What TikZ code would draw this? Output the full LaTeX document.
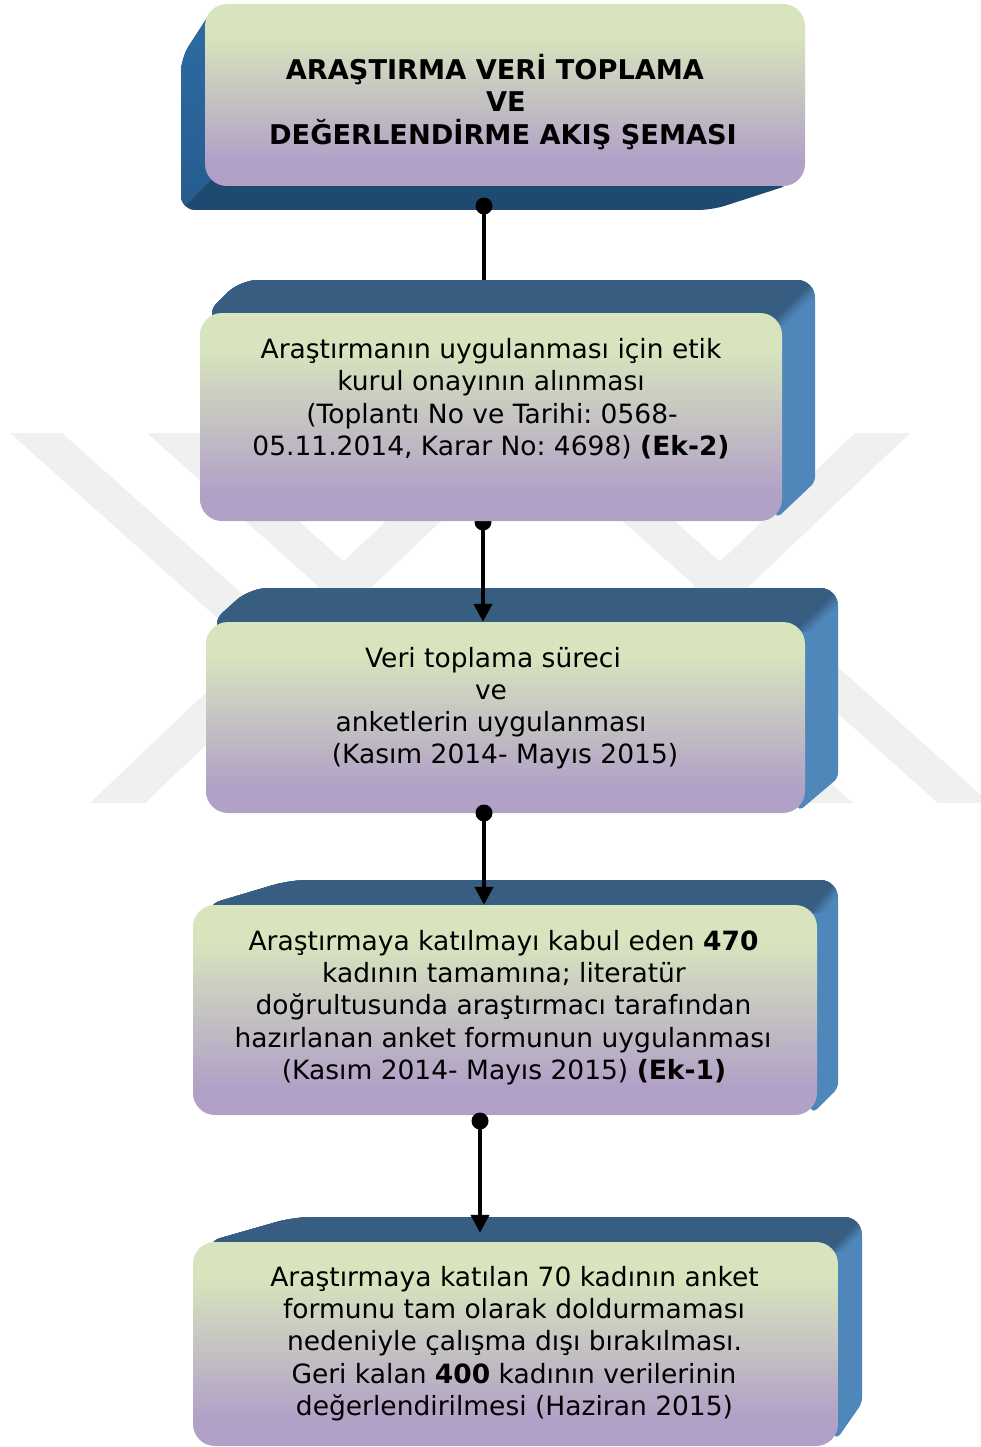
\documentclass[tikz,border=0pt]{standalone}
\usepackage{fontspec}
\setmainfont{DejaVu Sans}
\usetikzlibrary{arrows.meta}
\definecolor{grn}{HTML}{D7E4BD}
\definecolor{gry}{HTML}{C5C4C2}
\definecolor{lav}{HTML}{B2A1C7}
\definecolor{topb}{HTML}{375D81}
\definecolor{sideb}{HTML}{4F87BB}
\definecolor{leftbA}{HTML}{2E6DA6}
\definecolor{leftbB}{HTML}{255A8B}
\definecolor{botb}{HTML}{1F4A70}
\definecolor{wmc}{HTML}{F0F0F0}
\pgfdeclareverticalshading{frontsh}{100bp}{color(0bp)=(lav); color(32bp)=(lav); color(50bp)=(gry); color(66bp)=(grn); color(100bp)=(grn)}
\pgfdeclarelayer{wmark}
\pgfdeclarelayer{low}
\pgfdeclarelayer{mid}
\pgfdeclarelayer{high}
\pgfsetlayers{wmark,low,mid,main,high}
\tikzset{
  face/.style={shade, shading=frontsh, rounded corners=22pt, inner sep=0pt},
  txt/.style={anchor=base, inner sep=0pt, font=\fontsize{26.5}{32}\selectfont},
  ttl/.style={anchor=base, inner sep=0pt, font=\fontsize{27.2}{32}\selectfont\bfseries},
  conn/.style={line width=4pt},
  arr/.style={line width=4pt, -{Triangle[length=18pt,width=18pt]}},
  dotst/.style={circle, fill=black, inner sep=0pt, minimum size=17pt},
  sideface/.style={fill=sideb},
  wmband/.style={fill=wmc}
}
\frenchspacing
\begin{document}
\begin{tikzpicture}[x=1pt,y=-1pt]
\useasboundingbox (0,0) rectangle (981,1447);

% ---------- watermark ----------
\begin{pgfonlayer}{wmark}
\fill[white] (0,0) rectangle (981,1447);
\begin{scope}
\clip (0,433) rectangle (981,803);
\fill[wmband] (10,433) -- (62,433) -- (476.4,803) -- (424.4,803) -- cycle;
\fill[wmband] (90,803) -- (145,803) -- (533.5,433) -- (478.5,433) -- cycle;
\fill[wmband] (524,433) -- (576,433) -- (990,803) -- (938,803) -- cycle;
\fill[wmband] (855,433) -- (910,433) -- (521.5,803) -- (466.5,803) -- cycle;
\fill[wmband] (147,433) -- (200,433) -- (372,586.6) -- (346,611) -- cycle;
\fill[wmband] (853,803) -- (800,803) -- (628,649.4) -- (654,625) -- cycle;
\end{scope}
\end{pgfonlayer}

% ---------- box 1 ----------
\begin{pgfonlayer}{low}
\begin{scope}
\clip[rounded corners=14pt] (216,4) -- (181,58) -- (181,210) -- (712,210) [rounded corners=4pt] -- (786,186) -- (760,150) [rounded corners=14pt] -- (240,40) -- cycle;
\fill[botb] (150,0) rectangle (830,230);
\shade[top color=leftbA, bottom color=leftbB] (235,-10) -- (150,40) -- (150,241) -- (215,176) -- cycle;
\end{scope}
\node[face, minimum width=600pt, minimum height=182pt] (b1) at (505,95) {};
\node[ttl] (t11) at (495,80) {ARAŞTIRMA VERİ TOPLAMA};
\node[ttl] (t12) at (506,112) {VE};
\node[ttl] (t13) at (503,145) {DEĞERLENDİRME AKIŞ ŞEMASI};
\end{pgfonlayer}

% ---------- box 3 ----------
\begin{pgfonlayer}{low}
\begin{scope}
\clip[rounded corners=18pt] (209,625) -- (250,588) -- (838,588) [rounded corners=5pt] -- (838,778) -- (799,811) -- (790,790) [rounded corners=18pt] -- (230,640) -- cycle;
\fill[sideface] (190,570) rectangle (860,830);
\foreach \d/\p in {16/12, 12/30, 8/52, 4/76, 0/100}
  \fill[topb!\p!sideb] (195,645) -- (240,575) -- ({855+\d},575) -- ({795+\d},632) -- cycle;
\end{scope}
\node[face, minimum width=599pt, minimum height=191pt] (b3) at (505.5,717.5) {};
\node[txt] (t31) at (493,667) {Veri toplama süreci};
\node[txt] (t32) at (491,699) {ve};
\node[txt] (t33) at (491,731.5) {anketlerin uygulanması};
\node[txt] (t34) at (505,763.5) {(Kasım 2014- Mayıs 2015)};
\end{pgfonlayer}

% ---------- box 2 ----------
\begin{scope}
\clip[rounded corners=18pt] (204,316) -- (240,280) -- (815,280) [rounded corners=5pt] -- (815,482) -- (777,518) -- (770,500) [rounded corners=18pt] -- (230,330) -- cycle;
\fill[sideface] (190,260) rectangle (830,530);
\foreach \d/\p in {16/12, 12/30, 8/52, 4/76, 0/100}
  \fill[topb!\p!sideb] (190,340) -- (230,265) -- ({830+\d},265) -- ({770+\d},325) -- cycle;
\end{scope}
\node[face, minimum width=582pt, minimum height=208pt] (b2) at (491,417) {};
\node[txt] (t21) at (491,358) {Araştırmanın uygulanması için etik};
\node[txt] (t22) at (491,390.5) {kurul onayının alınması};
\node[txt] (t23) at (492,423) {(Toplantı No ve Tarihi: 0568-};
\node[txt] (t24) at (491,455) {05.11.2014, Karar No: 4698) \textbf{(Ek-2)}};

% ---------- box 4 ----------
\begin{scope}
\clip[rounded corners=18pt] (203,906) -- (290,880) -- (838,880) [rounded corners=5pt] -- (838,1088) -- (813,1113) -- (800,1090) [rounded corners=18pt] -- (230,920) -- cycle;
\fill[sideface] (180,860) rectangle (860,1130);
\foreach \d/\p in {14/12, 10/30, 7/52, 3.5/76, 0/100}
  \fill[topb!\p!sideb] (185,915) -- (280,865) -- ({850+\d},865) -- ({810+\d},913) -- cycle;
\end{scope}
\node[face, minimum width=624pt, minimum height=210pt] (b4) at (505,1010) {};
\node[txt] (t41) at (503.5,950) {Araştırmaya katılmayı kabul eden \textbf{470}};
\node[txt] (t42) at (504,982) {kadının tamamına; literatür};
\node[txt] (t43) at (503.5,1014.5) {doğrultusunda araştırmacı tarafından};
\node[txt] (t44) at (503,1047) {hazırlanan anket formunun uygulanması};
\node[txt] (t45) at (504,1079) {(Kasım 2014- Mayıs 2015) \textbf{(Ek-1)}};

% ---------- box 5 ----------
\begin{scope}
\clip[rounded corners=18pt] (203,1243) -- (294,1217) -- (862,1217) [rounded corners=5pt] -- (862,1403) -- (837,1439) -- (820,1420) [rounded corners=18pt] -- (230,1260) -- cycle;
\fill[sideface] (180,1200) rectangle (880,1447);
\foreach \d/\p in {14/12, 10/30, 7/52, 3.5/76, 0/100}
  \fill[topb!\p!sideb] (185,1252) -- (285,1205) -- ({875+\d},1205) -- ({830+\d},1252) -- cycle;
\end{scope}
\node[face, minimum width=645pt, minimum height=204pt] (b5) at (515.5,1344) {};
\node[txt] (t51) at (514.5,1286) {Araştırmaya katılan 70 kadının anket};
\node[txt] (t52) at (514,1318) {formunu tam olarak doldurmaması};
\node[txt] (t53) at (514.5,1350.5) {nedeniyle çalışma dışı bırakılması.};
\node[txt] (t54) at (514,1383) {Geri kalan \textbf{400} kadının verilerinin};
\node[txt] (t55) at (514.5,1415) {değerlendirilmesi (Haziran 2015)};

% ---------- connectors ----------
\begin{pgfonlayer}{mid}
\node[dotst] (dot1) at (484,206) {};
\draw[conn] (dot1.center) -- (dot1 |- b2.north);
\node[dotst] (dot2) at (483,522) {};
\draw[arr] (dot2.center) -- (dot2 |- b3.north);
\end{pgfonlayer}
\begin{pgfonlayer}{high}
\node[dotst] (dot3) at (484,813) {};
\draw[arr] (dot3.center) -- (dot3 |- b4.north);
\node[dotst] (dot4) at (480,1121) {};
\draw[arr, shorten >=9pt] (dot4.center) -- (dot4 |- b5.north);
\end{pgfonlayer}
\end{tikzpicture}
\end{document}
